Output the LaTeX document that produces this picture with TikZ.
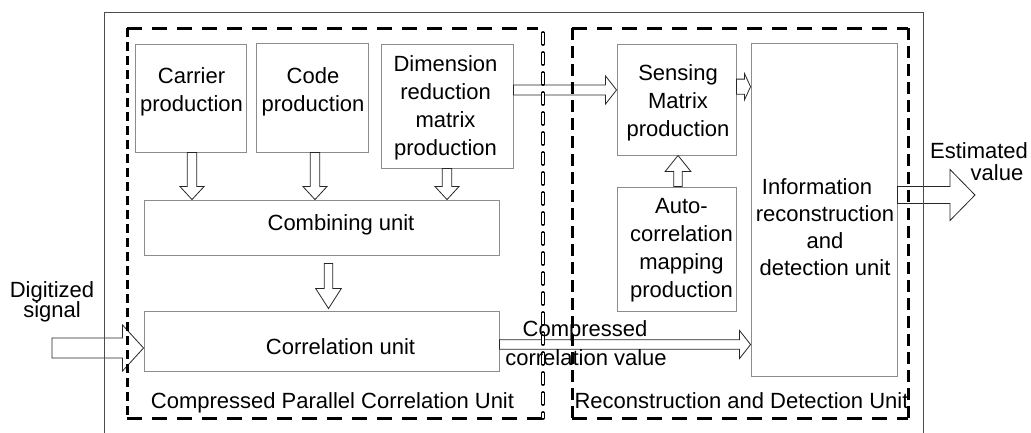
\documentclass[tikz,border=0pt]{standalone}
\usepackage{fontspec}
\setmainfont{Liberation Sans}
\usetikzlibrary{calc}
\newcommand\mkbox[5]{\node[box, minimum width={#4-#2}, minimum height={#5-#3}] (#1) at ({(#2+#4)/2},{(#3+#5)/2}) {};}
\newcommand\barrow[5]{%
  \coordinate (ba1) at #1; \coordinate (ba2) at #2;
  \coordinate (bah) at ($(ba2)!#5!(ba1)$);
  \draw[arrowline] ($(ba1)!#3!90:(ba2)$) -- ($(bah)!#3!90:(ba2)$) -- ($(bah)!#4!90:(ba2)$) -- (ba2)
     -- ($(bah)!#4!-90:(ba2)$) -- ($(bah)!#3!-90:(ba2)$) -- ($(ba1)!#3!-90:(ba2)$) -- cycle;
}
\begin{document}
\begin{tikzpicture}[x=1pt,y=-1pt,
  box/.style={draw=black!45, line width=0.9pt, inner sep=0pt},
  txt/.style={font=\fontsize{22}{28}\selectfont, inner sep=0pt, anchor=base, text=black},
  arrowline/.style={draw=black!85, line width=0.8pt, fill=white, line join=miter},
  frame/.style={draw=black!70, line width=1pt},
  dashh/.style={line width=3pt, dash pattern=on 15pt off 10pt},
  dashv/.style={line width=3pt, dash pattern=on 8.5pt off 5.5pt},
  dashvr/.style={line width=3pt, dash pattern=on 12pt off 6pt},
  hollowout/.style={line width=3.8pt, line cap=round, dash pattern=on 11pt off 9pt},
  hollowin/.style={white, line width=1.4pt, dash pattern=on 11pt off 9pt}]
\useasboundingbox (0,0) rectangle (1031,432);

% boxes
\mkbox{carrier}{135}{44}{246}{152}
\mkbox{code}{256}{43}{368}{152}
\mkbox{dim}{381}{44}{513}{168}
\mkbox{comb}{144}{200}{499}{255}
\mkbox{corr}{144}{311}{499}{371}
\mkbox{sens}{617}{44}{736}{155}
\mkbox{auto}{617}{187}{736}{311}
\mkbox{info}{751}{43}{897}{376}

% connectors
\barrow{($(carrier.south)+(1.5,0)$)}{($(carrier.south |- comb.north)+(1.5,0)$)}{4.75pt}{12pt}{13pt}
\barrow{($(code.south)+(3,0)$)}{($(code.south |- comb.north)+(3,0)$)}{4.75pt}{12pt}{13pt}
\barrow{(dim.south)}{(dim.south |- comb.north)}{4.75pt}{12pt}{13pt}
\barrow{($(comb.south)+(7,8)$)}{($(comb.south |- corr.north)+(7,-2)$)}{4.3pt}{12.8pt}{20pt}
\coordinate (digin) at (52,348);
\barrow{(digin)}{($(corr.west)+(0,7)$)}{10pt}{23pt}{21pt}
\coordinate (dimout) at ($(dim.east)+(0,-16)$);
\barrow{(dimout)}{(dimout -| sens.west)}{5pt}{14pt}{11pt}
\coordinate (sensout) at ($(sens.east)+(0,-12.8)$);
\barrow{(sensout)}{(sensout -| info.west)}{7.6pt}{13pt}{6pt}
\barrow{($(auto.north)+(1.5,0)$)}{($(sens.south)+(1.5,0)$)}{4.3pt}{12.8pt}{16pt}
\coordinate (corrout) at ($(corr.east)+(0,3.5)$);
\barrow{(corrout)}{(corrout -| info.west)}{4.75pt}{14pt}{11pt}
\coordinate (infoout) at ($(info.east)+(0,-14.5)$);
\coordinate (estout) at (975,195);
\barrow{(infoout)}{(estout)}{8.5pt}{25.5pt}{25pt}

% outer frame
\draw[frame] (104,440) -- (104,12) -- (923,12) -- (923,440);

% left dashed unit
\draw[dashh] (127,28) -- (538,28);
\draw[dashh] (127,418) -- (543,418);
\draw[dashv] (127,28) -- (127,418);
\draw[hollowout] (543,33) -- (543,418);
\draw[hollowin] (543,33) -- (543,418);

% right dashed unit
\draw[dashh] (572,28) -- (908,28);
\draw[dashh] (572,418) -- (908,418);
\draw[dashvr] (572,28) -- (572,418);
\draw[dashvr] (908,28) -- (908,418);

% texts
\node[txt] (carrier-1) at (191.5,83.5) {Carrier};
\node[txt] (carrier-2) at (191.5,111.5) {production};
\node[txt] (code-1) at (313,83.5) {Code};
\node[txt] (code-2) at (313,111.5) {production};
\node[txt] (dim-1) at (445.5,71.5) {Dimension};
\node[txt] (dim-2) at (445.5,99.5) {reduction};
\node[txt] (dim-3) at (445.5,127.5) {matrix};
\node[txt] (dim-4) at (445.5,155.5) {production};
\node[txt] (comb-1) at (341,230.5) {Combining unit};
\node[txt] (corr-1) at (340.5,354) {Correlation unit};
\node[txt] (cpcu) at (332.5,408) {Compressed Parallel Correlation Unit};
\node[txt] (dig-1) at (52,297) {Digitized};
\node[txt] (dig-2) at (52,317) {signal};
\node[txt] (sens-1) at (678,80) {Sensing};
\node[txt] (sens-2) at (678,108) {Matrix};
\node[txt] (sens-3) at (678,136) {production};
\node[txt] (auto-1) at (681.5,213.5) {Auto-};
\node[txt] (auto-2) at (681.5,241.5) {correlation};
\node[txt] (auto-3) at (681.5,269.5) {mapping};
\node[txt] (auto-4) at (681.5,297.5) {production};
\node[txt] (info-1) at (817,194) {Information};
\node[txt] (info-2) at (825,221.5) {reconstruction};
\node[txt] (info-3) at (825,248) {and};
\node[txt] (info-4) at (825,275) {detection unit};
\node[txt] (est-1) at (979,158) {Estimated};
\node[txt] (est-2) at (997,180) {value};
\node[txt] (cc-1) at (585,336.5) {Compressed};
\node[txt] (cc-2) at (586,365) {correlation value};
\node[txt] (rdu) at (741.5,408) {Reconstruction and Detection Unit};
\end{tikzpicture}
\end{document}
